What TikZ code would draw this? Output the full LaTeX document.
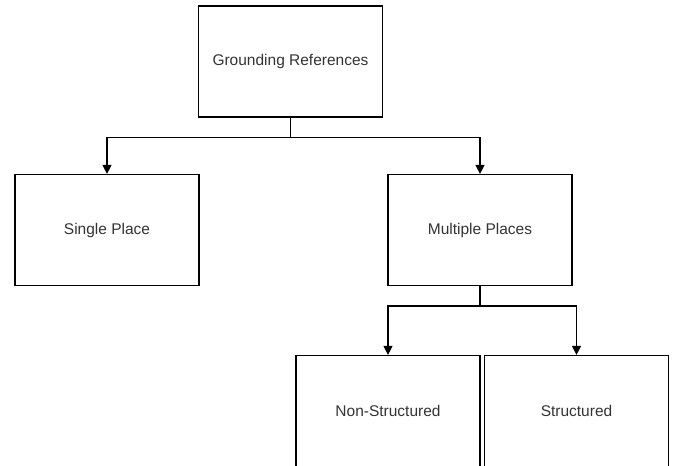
\documentclass[tikz,border=0pt]{standalone}
\usepackage{fontspec}
\setmainfont{Liberation Sans}
\usetikzlibrary{arrows.meta}
\begin{document}
\begin{tikzpicture}[x=1pt,y=1pt,line width=1.2pt,
    box/.style={draw,rectangle,minimum width=184pt,minimum height=111pt,inner sep=0pt,
      font=\fontsize{15.5}{18}\selectfont,text=black!80},
    link/.style={-{Triangle[length=9pt,width=9pt]}}]
      \pgfmathsetmacro{\d}{20}

      \useasboundingbox (0,0) rectangle (675,466);

      \node[box] (G) at (290.5,404.5) {Grounding References};

      \node[box] (S) at (107,236) {Single Place};
      \node[box] (M) at (480,236) {Multiple Places};

      \node[box] (N) at (388,55) {Non-Structured};
      \node[box] (T) at (576.5,55) {Structured};

      \draw[link] (G.south) -- ++(0,-\d) -| (S.north);
      \draw[link] (G.south) -- ++(0,-\d) -| (M.north);
      \draw[link] (M.south) -- ++(0,-\d) -| (N.north);
      \draw[link] (M.south) -- ++(0,-\d) -| (T.north);
    \end{tikzpicture}
\end{document}
